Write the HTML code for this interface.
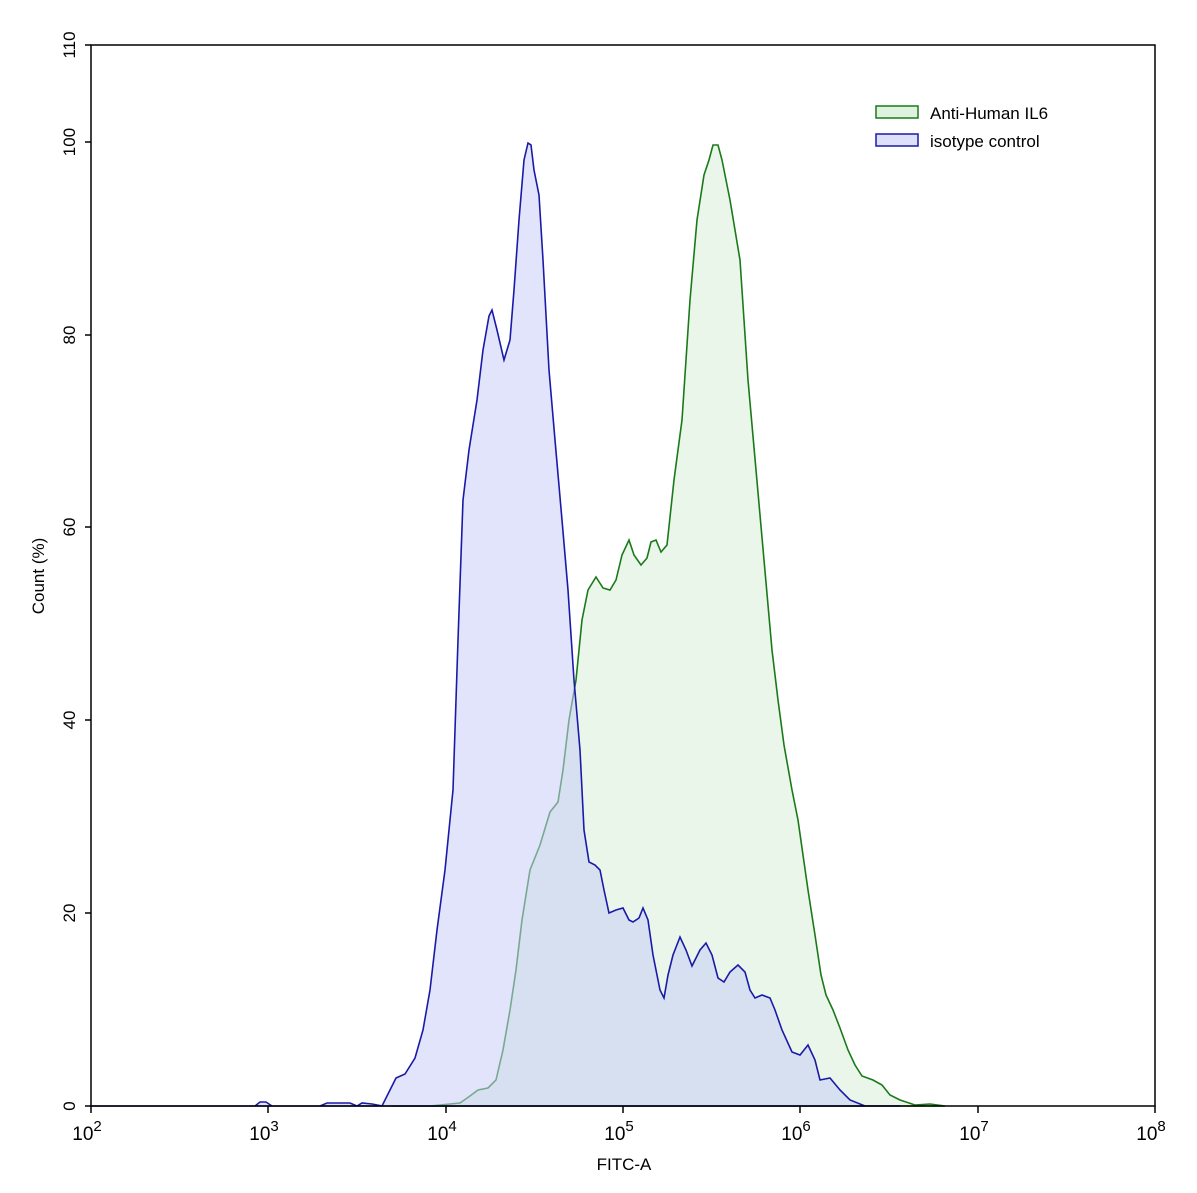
<!DOCTYPE html>
<html><head><meta charset="utf-8"><style>body{margin:0;background:#fff}svg{display:block}</style></head><body>
<svg width="1197" height="1193" viewBox="0 0 1197 1193" xmlns="http://www.w3.org/2000/svg" font-family="Liberation Sans, sans-serif">
<rect width="1197" height="1193" fill="#fff"/>
<polygon fill="#dff2df" fill-opacity="0.7" stroke="#1a7a1a" stroke-width="1.6" points="391,1106 430,1106 460,1103 470,1096 478,1090 488,1088 496,1080 503,1050 510,1010 516,970 522,920 530,870 540,845 550,812 558,802 563,770 569,720 576,680 582,620 588,590 596,577 603,588 610,590 616,580 622,555 629,540 634,555 641,565 647,558 651,542 656,540 661,552 667,545 674,480 682,420 690,300 697,220 704,175 709,160 713,145 718,145 722,160 730,200 740,260 748,380 756,470 764,560 772,650 778,700 784,745 792,790 798,820 803,855 808,890 815,935 821,975 826,995 833,1010 840,1028 848,1050 855,1065 862,1076 873,1080 882,1085 890,1095 900,1100 915,1105 930,1104 945,1106"/>
<polygon fill="#c8cdf5" fill-opacity="0.55" stroke="#1a1aa8" stroke-width="1.6" points="91,1106 255,1106 260,1102 266,1102 272,1106 320,1106 327,1103 350,1103 357,1106 362,1103 372,1104 382,1106 390,1090 396,1078 405,1074 415,1058 423,1030 430,990 437,930 445,870 453,790 458,640 463,500 469,450 477,400 483,350 489,316 492,310 497,330 504,360 510,340 514,290 519,220 524,160 528,143 531,145 534,170 539,195 543,260 549,370 555,440 562,520 568,590 574,680 580,750 584,830 589,862 595,865 600,870 604,890 609,913 616,910 623,908 629,920 633,922 639,918 643,908 648,920 653,955 660,990 664,998 668,975 673,955 680,937 686,950 692,966 700,950 706,943 712,955 718,978 724,982 730,972 738,965 745,972 750,990 755,998 762,995 770,998 775,1010 782,1030 792,1052 800,1055 808,1045 815,1060 820,1080 830,1078 840,1090 850,1100 865,1106 900,1106"/>
<rect x="91" y="45" width="1064" height="1061" fill="none" stroke="#000" stroke-width="1.5"/>
<g stroke="#000" stroke-width="1.5">
<line x1="85" y1="1106" x2="91" y2="1106"/><line x1="85" y1="913" x2="91" y2="913"/><line x1="85" y1="720" x2="91" y2="720"/><line x1="85" y1="527" x2="91" y2="527"/><line x1="85" y1="335" x2="91" y2="335"/><line x1="85" y1="142" x2="91" y2="142"/><line x1="85" y1="45" x2="91" y2="45"/>
<line x1="91" y1="1106" x2="91" y2="1113"/><line x1="268" y1="1106" x2="268" y2="1113"/><line x1="446" y1="1106" x2="446" y2="1113"/><line x1="623" y1="1106" x2="623" y2="1113"/><line x1="800" y1="1106" x2="800" y2="1113"/><line x1="978" y1="1106" x2="978" y2="1113"/><line x1="1155" y1="1106" x2="1155" y2="1113"/>
</g>
<g stroke="#000" stroke-width="1" id="mt"></g>
<script>
var g=document.getElementById('mt'),s='';
for(var d=0;d<6;d++)for(var k=2;k<10;k++){var x=91+177.3*(d+Math.log10(k));s+='<line x1="'+x+'" y1="1106" x2="'+x+'" y2="1110"/>';}
for(var v=10;v<110;v+=20){var y=1106-v*9.645;s+='<line x1="88" y1="'+y+'" x2="91" y2="'+y+'"/>';}
g.innerHTML=s;
</script>
<g font-size="17" fill="#000" text-anchor="middle">
<text transform="translate(75,1106) rotate(-90)">0</text>
<text transform="translate(75,913) rotate(-90)">20</text>
<text transform="translate(75,720) rotate(-90)">40</text>
<text transform="translate(75,527) rotate(-90)">60</text>
<text transform="translate(75,335) rotate(-90)">80</text>
<text transform="translate(75,142) rotate(-90)">100</text>
<text transform="translate(75,45) rotate(-90)">110</text>
<text transform="translate(44,576) rotate(-90)">Count  (%)</text>
<text x="624" y="1170">FITC-A</text>
</g>
<g font-size="19" fill="#000" text-anchor="middle">
<text x="87" y="1140">10<tspan dy="-9" font-size="15">2</tspan></text>
<text x="264" y="1140">10<tspan dy="-9" font-size="15">3</tspan></text>
<text x="442" y="1140">10<tspan dy="-9" font-size="15">4</tspan></text>
<text x="619" y="1140">10<tspan dy="-9" font-size="15">5</tspan></text>
<text x="796" y="1140">10<tspan dy="-9" font-size="15">6</tspan></text>
<text x="974" y="1140">10<tspan dy="-9" font-size="15">7</tspan></text>
<text x="1151" y="1140">10<tspan dy="-9" font-size="15">8</tspan></text>
</g>
<rect x="876" y="106" width="42" height="12" fill="#dff2df" stroke="#1a7a1a" stroke-width="1.5"/>
<rect x="876" y="134" width="42" height="12" fill="#dde0f8" stroke="#1a1aa8" stroke-width="1.5"/>
<text x="930" y="119" font-size="17">Anti-Human IL6</text>
<text x="930" y="147" font-size="17">isotype control</text>
</svg>
</body></html>
